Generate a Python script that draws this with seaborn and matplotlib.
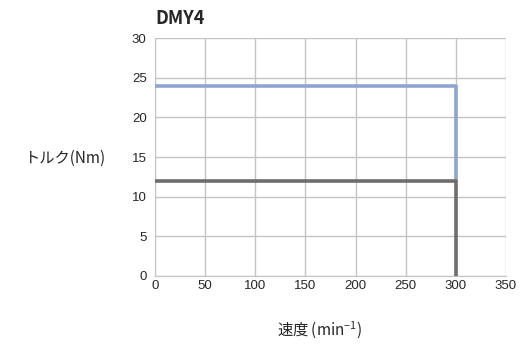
import pandas as pd
import seaborn as sns
import matplotlib.pyplot as plt

# rated torque curves (speed min^-1 vs torque Nm)
speed_peak = [0, 300, 300]
torque_peak = [24, 24, 12]
speed_cont = [0, 300, 300]
torque_cont = [12, 12, 0]

x_ticks = [0, 50, 100, 150, 200, 250, 300, 350]
y_ticks = [0, 5, 10, 15, 20, 25, 30]

sns.set_style("white")
plt.rcParams['font.family'] = ['Liberation Sans', 'DejaVu Sans']

fig = plt.figure(figsize=(5.2, 3.47), dpi=100)
ax = fig.add_axes([0.298, 0.205, 0.675, 0.685])

peak = pd.DataFrame({"speed": speed_peak, "torque": torque_peak})
cont = pd.DataFrame({"speed": speed_cont, "torque": torque_cont})

sns.lineplot(data=peak, x="speed", y="torque", sort=False, estimator=None,
             color="#8ea5d3", linewidth=2.6, ax=ax, zorder=3)
sns.lineplot(data=cont, x="speed", y="torque", sort=False, estimator=None,
             color="#6d6d6d", linewidth=2.6, ax=ax, zorder=4)

ax.set_xlim(0, 350)
ax.set_ylim(0, 30)
ax.set_xticks(x_ticks)
ax.set_yticks(y_ticks)
ax.grid(True, color="#c4c4c4", linewidth=1.0)
ax.set_axisbelow(True)

for side in ["top", "right"]:
    ax.spines[side].set_visible(False)
ax.spines["left"].set_color("#c4c4c4")
ax.spines["bottom"].set_color("#c4c4c4")
ax.tick_params(axis="y", which="major", length=4, color="#c4c4c4", labelsize=9.5, pad=2)
ax.tick_params(axis="x", which="major", length=0, labelsize=9.5, pad=3)

jp = ['Noto Sans CJK JP', 'DejaVu Sans']
ax.set_xlabel("")
ax.set_ylabel("")
fig.text(0.298, 0.948, "DMY4", family=jp, fontsize=13, fontweight="bold",
         ha="left", va="center")
fig.text(0.048, 0.545, "トルク(Nm)", family=jp, fontsize=11, ha="left", va="center")
fig.text(0.615, 0.048, "速度 (min$^{\\mathregular{-1}}$)", family=jp, fontsize=11,
         ha="center", va="center")

fig.savefig("out.png", dpi=100)
